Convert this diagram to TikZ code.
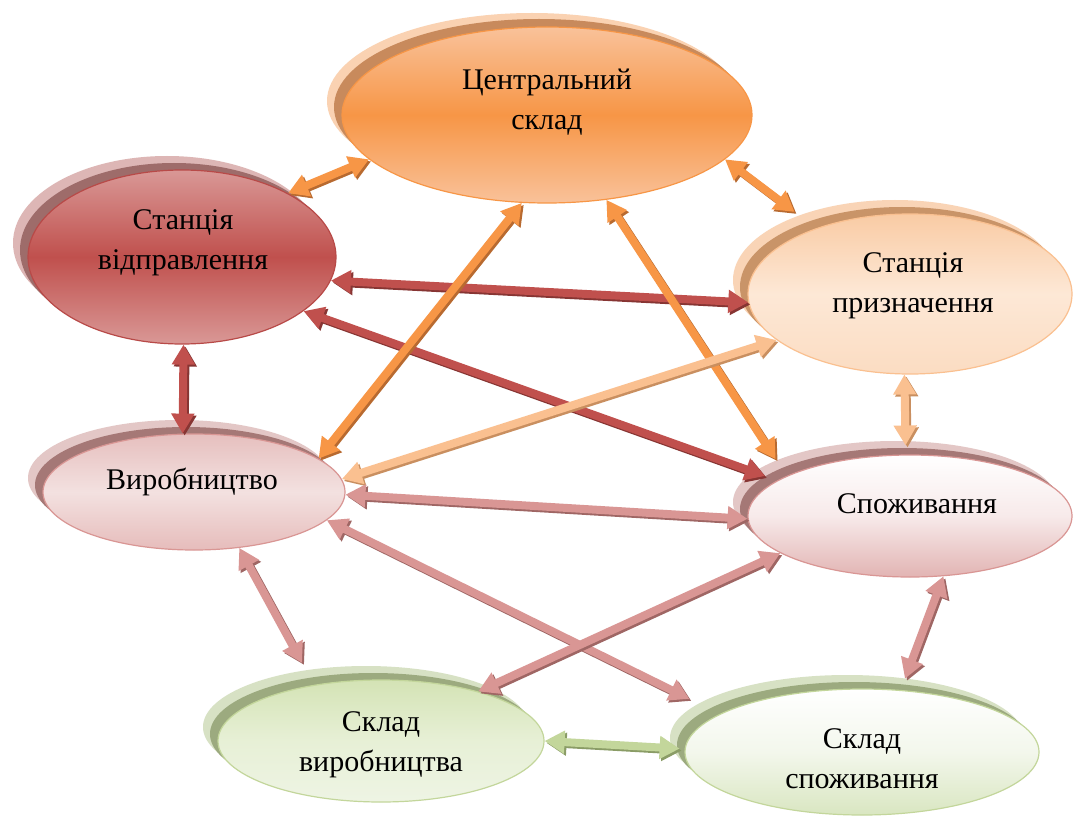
\documentclass[tikz,border=0pt]{standalone}
\usepackage{fontspec}
\setmainfont{Liberation Serif}
\usetikzlibrary{shapes.geometric,arrows.meta}
% ellipse colours
\definecolor{orL}{HTML}{FAD2B2}\definecolor{orD}{HTML}{C88A5C}
\definecolor{orT}{HTML}{F9C29A}\definecolor{orM}{HTML}{F79646}\definecolor{orB}{HTML}{F79646}
\definecolor{rdL}{HTML}{DDB6B5}\definecolor{rdD}{HTML}{9E6C6A}
\definecolor{rdT}{HTML}{D99896}\definecolor{rdM}{HTML}{C0504D}\definecolor{rdB}{HTML}{B84A48}
\definecolor{poL}{HTML}{F9D4B6}\definecolor{poD}{HTML}{C99468}
\definecolor{poT}{HTML}{F9CBA4}\definecolor{poM}{HTML}{FDE8D6}\definecolor{poBt}{HTML}{FBDCC2}\definecolor{poB}{HTML}{FAC090}
\definecolor{pkL}{HTML}{E3C7C6}\definecolor{pkD}{HTML}{A57876}
\definecolor{pkT}{HTML}{E6BFBE}\definecolor{pkM}{HTML}{F3E1E0}\definecolor{pkBt}{HTML}{E6BCBB}\definecolor{pkB}{HTML}{D99694}
\definecolor{sgM}{HTML}{F7EAEA}\definecolor{sgBt}{HTML}{E2B4B3}
\definecolor{grL}{HTML}{D7E1C4}\definecolor{grD}{HTML}{9CAA7F}
\definecolor{grT}{HTML}{D4E3B5}\definecolor{grM}{HTML}{E7F0D6}\definecolor{grBt}{HTML}{EEF4E4}\definecolor{grB}{HTML}{C3D69B}
\definecolor{ssM}{HTML}{F3F7EC}\definecolor{ssBt}{HTML}{D9E6C1}
% arrow colours
\definecolor{aOr}{HTML}{F79646}\definecolor{aOrS}{HTML}{B86A30}
\definecolor{aRd}{HTML}{C0504D}\definecolor{aRdS}{HTML}{873533}
\definecolor{aPo}{HTML}{FAC090}\definecolor{aPoS}{HTML}{C98F60}
\definecolor{aPk}{HTML}{D99694}\definecolor{aPkS}{HTML}{9F6664}
\definecolor{aGr}{HTML}{C3D69B}\definecolor{aGrS}{HTML}{8A9C66}
\tikzset{
  bub/.style={ellipse, inner sep=0pt, line width=1.2pt},
  lbl/.style={align=center, font=\fontsize{30}{40}\selectfont, inner sep=0pt},
  ba/.style={line width=8pt, {Triangle[length=20pt,width=22pt]}-{Triangle[length=20pt,width=22pt]}},
}
\newcommand\conn[5][]{%
  \draw[ba, #1, draw=#3, transform canvas={xshift=2pt,yshift=-2pt}] (#4) -- (#5);
  \draw[ba, #1, draw=#2] (#4) -- (#5);}
\begin{document}
\begin{tikzpicture}[x=1pt,y=-1pt]
\useasboundingbox[fill=white] (0,0) rectangle (1075,818);
% ---- Центральний склад
\fill[orL] (532,101) ellipse [x radius=205,y radius=88];
\fill[orD] (539,107) ellipse [x radius=205,y radius=88];
\node[bub, minimum width=410pt, minimum height=176pt, draw=orB, top color=orT, bottom color=orT, middle color=orM] (cs) at (547,115) {};
% ---- Станція відправлення
\fill[rdL] (167,243) ellipse [x radius=154,y radius=87];
\fill[rdD] (174,250) ellipse [x radius=154,y radius=87];
\node[bub, minimum width=308pt, minimum height=174pt, draw=rdB, top color=rdT, bottom color=rdT, middle color=rdM] (vd) at (182,257) {};
% ---- Станція призначення
\fill[poL] (895,280) ellipse [x radius=162,y radius=80];
\fill[poD] (902,287) ellipse [x radius=162,y radius=80];
\node[bub, minimum width=324pt, minimum height=160pt, draw=poB, top color=poT, bottom color=poBt, middle color=poM] (sp) at (910,294) {};
% ---- Виробництво
\fill[pkL] (179,478) ellipse [x radius=151,y radius=58];
\fill[pkD] (186,485) ellipse [x radius=151,y radius=58];
\node[bub, minimum width=302pt, minimum height=116pt, draw=pkB, top color=pkT, bottom color=pkBt, middle color=pkM] (vr) at (194,492) {};
% ---- Споживання
\fill[pkL] (895,502) ellipse [x radius=162,y radius=61];
\fill[pkD] (902,509) ellipse [x radius=162,y radius=61];
\node[bub, minimum width=324pt, minimum height=122pt, draw=pkB, top color=white, bottom color=sgBt, middle color=sgM] (sg) at (910,516) {};
% ---- Склад виробництва
\fill[grL] (366,727) ellipse [x radius=163,y radius=61];
\fill[grD] (373,734) ellipse [x radius=163,y radius=61];
\node[bub, minimum width=326pt, minimum height=122pt, draw=grB, top color=grT, bottom color=grBt, middle color=grM] (sv) at (381,741) {};
% ---- Склад споживання
\fill[grL] (847,738) ellipse [x radius=177,y radius=63];
\fill[grD] (854,745) ellipse [x radius=177,y radius=63];
\node[bub, minimum width=354pt, minimum height=126pt, draw=grB, top color=white, bottom color=ssBt, middle color=ssM] (ss) at (862,752) {};
% ---- connectors
\conn{aOr}{aOrS}{cs.194}{vd.31}
\conn[shorten >=27pt]{aOr}{aOrS}{cs.346}{sp.145}
\conn{aRd}{aRdS}{vd.351}{sp.183}
\conn[shorten >=13pt]{aRd}{aRdS}{vd.336}{sg.165}
\conn{aRd}{aRdS}{vd.271}{vr.101}
\conn{aOr}{aOrS}{cs.254}{vr.15}
\conn[shorten >=20pt]{aOr}{aOrS}{cs.305}{sg.162}
\conn{aPo}{aPoS}{sp.199}{vr.5}
\conn[shorten >=9pt]{aPo}{aPoS}{sp.266}{sg.94}
\conn{aPk}{aPkS}{vr.359}{sg.181}
\conn[shorten >=34pt]{aPk}{aPkS}{vr.348}{ss.165}
\conn[shorten >=25pt]{aPk}{aPkS}{vr.309}{sv.140}
\conn{aPk}{aPkS}{sg.196}{sv.27}
\conn[shorten >=12pt]{aPk}{aPkS}{sg.299}{ss.58}
\conn[shorten >=5pt]{aGr}{aGrS}{sv.0}{ss.179}
% ---- labels
\node[lbl] (cst) at (547,102) {Центральний\\склад};
\node[lbl] (vdt) at (183,243) {Станція\\відправлення};
\node[lbl] (spt) at (913,286) {Станція\\призначення};
\node[lbl] (vrt) at (192,482) {Виробництво};
\node[lbl] (sgt) at (917,504) {Споживання};
\node[lbl] (svt) at (381,745) {Склад\\виробництва};
\node[lbl] (sst) at (862,759) {Склад\\споживання};
\end{tikzpicture}
\end{document}
